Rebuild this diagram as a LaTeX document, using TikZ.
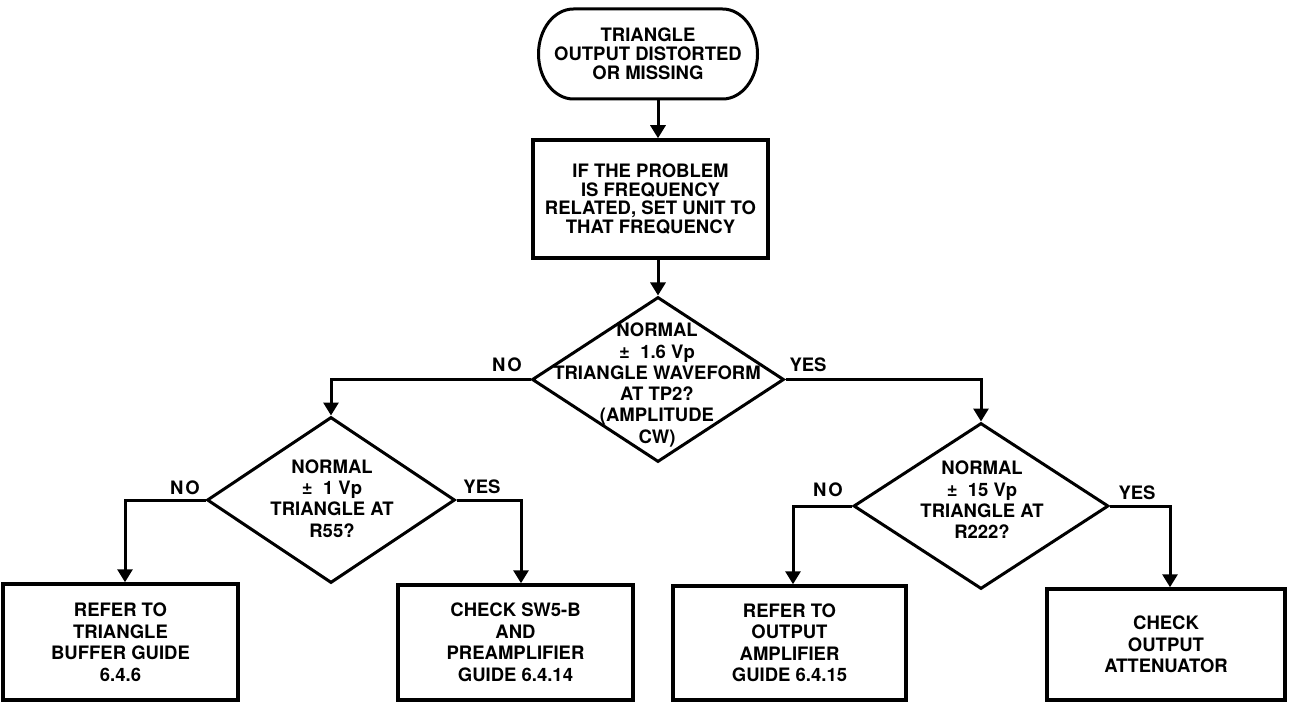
\documentclass[tikz,border=0pt]{standalone}
\usepackage{fontspec}
\setmainfont{TeX Gyre Heros}
\usetikzlibrary{shapes.geometric,arrows.meta}

\begin{document}
\begin{tikzpicture}[x=1pt,y=1pt,
  every node/.style={inner sep=0pt, align=center},
  lbl/.style={font=\fontsize{18.5}{21.3}\selectfont\bfseries},
  tight/.style={font=\fontsize{18.5}{18.4}\selectfont\bfseries},
  mid/.style={font=\fontsize{18.5}{19.2}\selectfont\bfseries},
  wide/.style={font=\fontsize{18.5}{21.5}\selectfont\bfseries},
  procbox/.style={draw, rectangle, line width=3.5pt},
  decision/.style={draw, diamond, line width=3pt},
  conn/.style={line width=3pt, -{Triangle[length=13pt,width=15pt]}},
]
\fill[white] (0,0) rectangle (1289,702);
\useasboundingbox (0,0) rectangle (1289,702);

% start terminator: straight top and bottom, elliptical ends
\node[mid, minimum height=90pt] (start) at (648,648)
  {TRIANGLE\\OUTPUT DISTORTED\\OR MISSING};
\draw[line width=3pt]
  ([xshift=-74.5pt,yshift=45pt]start.center) -- ([xshift=74.5pt,yshift=45pt]start.center)
  arc[start angle=90, end angle=-90, x radius=35pt, y radius=45pt]
  -- ([xshift=-74.5pt,yshift=-45pt]start.center)
  arc[start angle=270, end angle=90, x radius=35pt, y radius=45pt] -- cycle;

% set-up step
\node[procbox, tight, minimum width=235pt, minimum height=118pt] (setup) at (650.5,503)
  {IF THE PROBLEM\\IS FREQUENCY\\RELATED, SET UNIT TO\\THAT FREQUENCY};

% decisions
\node[decision, minimum width=252pt, minimum height=165pt] (dtp) at (658,322.5) {};
\node[lbl] (dtptext) at (657,317)
  {NORMAL\\±\ \ 1.6 Vp\\TRIANGLE WAVEFORM\\AT TP2?\\(AMPLITUDE\\CW)};

\node[decision, minimum width=248pt, minimum height=166pt] (dr55) at (331,202) {};
\node[lbl] (dr55text) at (332,203.5)
  {NORMAL\\±\ \ 1 Vp\\TRIANGLE AT\\R55?};

\node[decision, minimum width=255pt, minimum height=166pt] (dr222) at (981,196) {};
\node[lbl] (dr222text) at (982,202)
  {NORMAL\\±\ \ 15 Vp\\TRIANGLE AT\\R222?};

% outcomes
\node[procbox, wide, minimum width=235pt, minimum height=116pt] (buf) at (120.5,60)
  {REFER TO\\TRIANGLE\\BUFFER GUIDE\\6.4.6};
\node[procbox, wide, minimum width=235pt, minimum height=115pt] (pre) at (515.5,59.5)
  {CHECK SW5-B\\AND\\PREAMPLIFIER\\GUIDE 6.4.14};
\node[procbox, wide, minimum width=233pt, minimum height=114pt] (amp) at (789.5,59)
  {REFER TO\\OUTPUT\\AMPLIFIER\\GUIDE 6.4.15};
\node[procbox, wide, minimum width=238pt, minimum height=111pt] (att) at (1166,57.5)
  {CHECK\\OUTPUT\\ATTENUATOR};

% connectors
\draw[conn] (start.south -| dtp.north) -- (setup.north -| dtp.north);
\draw[conn] (setup.south -| dtp.north) -- (dtp.north);
\draw[conn] (dtp.west) -| (dr55.north);
\draw[conn] (dtp.east) -| (dr222.north);
\draw[conn] (dr55.west) -| ([xshift=4.5pt]buf.north);
\draw[conn] (dr55.east) -| ([xshift=5.5pt]pre.north);
\draw[conn] (dr222.west) -| ([xshift=3.5pt]amp.north);
\draw[conn] (dr222.east) -| ([xshift=4pt]att.north);

% branch labels
\node[lbl] (tpno) at (507,337) {N\kern2pt O};
\node[lbl] (tpyes) at (808,337) {YES};
\node[lbl] (r55no) at (185,214) {N\kern2pt O};
\node[lbl] (r55yes) at (482,215) {YES};
\node[lbl] (r222no) at (828,212) {N\kern2pt O};
\node[lbl] (r222yes) at (1137,209) {YES};
\end{tikzpicture}
\end{document}
